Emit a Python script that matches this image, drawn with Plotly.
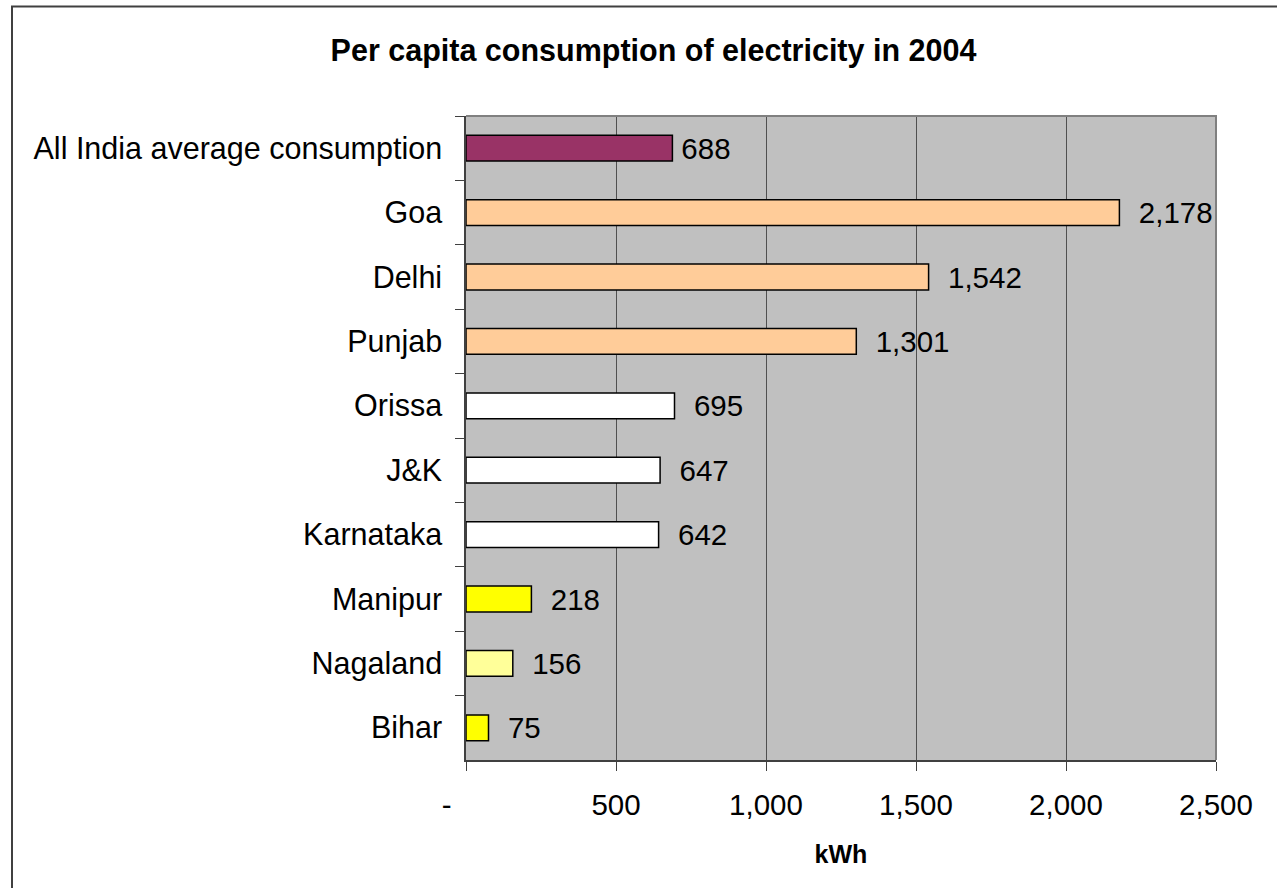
import plotly.graph_objects as go

# Per capita electricity consumption, 2004 (kWh)
states = ["Goa", "Delhi", "Punjab", "Orissa", "J&K", "Karnataka",
          "Manipur", "Nagaland", "Bihar"]
state_kwh = [2178, 1542, 1301, 695, 647, 642, 218, 156, 75]
state_colors = ["#FFCC99", "#FFCC99", "#FFCC99", "#FFFFFF", "#FFFFFF",
                "#FFFFFF", "#FFFF00", "#FFFF99", "#FFFF00"]

average_label = "All India average consumption"
average_kwh = 688

x_ticks = [0, 500, 1000, 1500, 2000, 2500]
x_tick_text = ["-\u00a0\u00a0\u00a0\u00a0\u2009", "500", "1,000", "1,500", "2,000", "2,500"]

FONT = "Arial, 'Liberation Sans', sans-serif"
category_order = [average_label] + states

fig = go.Figure()

fig.add_trace(go.Bar(
    y=[average_label], x=[average_kwh], orientation="h",
    marker=dict(color="#993366", line=dict(color="black", width=1.5)),
    texttemplate="\u2009%{x:,}", textposition="outside", constraintext="none",
    cliponaxis=False,
    textfont=dict(family=FONT, size=29.5, color="black"),
    hoverinfo="skip", showlegend=False,
))

fig.add_trace(go.Bar(
    y=states, x=state_kwh, orientation="h",
    marker=dict(color=state_colors, line=dict(color="black", width=1.5)),
    texttemplate="\u00a0\u00a0%{x:,}", textposition="outside", constraintext="none",
    cliponaxis=False,
    textfont=dict(family=FONT, size=29.5, color="black"),
    hoverinfo="skip", showlegend=False,
))

L, R, T, B = 466, 1216, 116, 760
W, H = 1277, 888
pw, ph = R - L, B - T

def px_to_paper_x(px):
    return (px - L) / pw

def px_to_paper_y(py):
    return (B - py) / ph

fig.update_layout(
    width=W, height=H,
    margin=dict(l=L, r=W - R, t=T, b=H - B, pad=0),
    paper_bgcolor="white",
    plot_bgcolor="#C0C0C0",
    bargap=0.6,
    barmode="overlay",
    font=dict(family=FONT, color="black"),
    title=dict(
        text="<b>Per capita consumption of electricity in 2004</b>",
        font=dict(family=FONT, size=30.5, color="black"),
        x=653.5 / W, xanchor="center",
        y=1 - 50 / H, yanchor="middle", yref="container",
    ),
    xaxis=dict(
        range=[0, 2500],
        tickvals=x_ticks, ticktext=x_tick_text,
        tickfont=dict(family=FONT, size=29.5, color="black"),
        ticks="outside", ticklen=9, tickcolor="#404040", tickwidth=1,
        showline=True, linecolor="#404040", linewidth=1.5,
        showgrid=True, gridcolor="#505050", gridwidth=1,
        zeroline=False,
        ticklabelstandoff=9,
        title=dict(text="<b>kWh</b>", font=dict(family=FONT, size=25, color="black"),
                   standoff=25),
    ),
    yaxis=dict(
        type="category",
        categoryorder="array", categoryarray=category_order,
        autorange="reversed",
        tickfont=dict(family=FONT, size=30.5, color="black"),
        ticks="outside", ticklen=9, tickcolor="#404040", tickwidth=1,
        tickson="boundaries",
        showline=True, linecolor="#404040", linewidth=1.5,
        showgrid=False, zeroline=False,
        ticklabelstandoff=16,
    ),
    shapes=[
        # top and right edges of the plot area
        dict(type="path", xref="paper", yref="paper",
             path="M 0,1 L 1,1 L 1,0",
             line=dict(color="#808080", width=2), layer="above"),
        # outer chart frame
        dict(type="rect", xref="paper", yref="paper",
             x0=px_to_paper_x(12), x1=px_to_paper_x(1300),
             y0=px_to_paper_y(900), y1=px_to_paper_y(6.5),
             line=dict(color="#404040", width=2), layer="above"),
    ],
)

fig.write_html("out.html")
